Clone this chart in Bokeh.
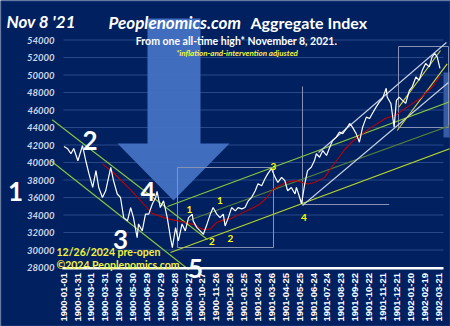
import math
import datetime as dt
from bokeh.plotting import figure
from bokeh.models import Range1d
from bokeh.core.properties import value
from bokeh.embed import file_html
from bokeh.resources import INLINE

# ---------------- data ----------------
price_days = [0, 8, 15, 21, 30, 40, 47, 54, 62, 69, 75, 83, 90, 101, 107, 115, 122, 129, 137, 144,
              150, 158, 161, 169, 176, 183, 191, 198, 201, 208, 215, 223, 230, 234, 241, 247, 255, 262,
              269, 277, 279, 287, 294, 301, 309, 316, 322, 330, 337, 344, 348, 355, 362, 370, 376, 384,
              391, 398, 405, 413, 419, 427, 434, 440, 448, 456, 462, 470, 477, 483, 491, 499, 502, 509,
              513, 520, 526, 534, 541, 545, 552, 559, 567, 574, 580, 588, 595, 602, 610, 617, 623, 631,
              638, 645, 653, 660, 666, 674, 681, 688, 696, 698, 706, 709, 713, 718, 724, 731, 738, 746,
              752, 760, 767, 774, 781, 789, 795, 801, 806, 812]
price_vals = [41820, 41560, 41000, 41600, 40200, 41940, 40200, 38700, 37150, 39070, 37150, 36000, 36770,
              39450, 37920, 36400, 36000, 33700, 33330, 34850, 33700, 31400, 32980, 32180, 34100, 34100,
              35280, 36000, 36700, 34850, 35620, 33700, 31400, 30260, 32560, 31030, 32980, 32180, 33700,
              34100, 33330, 32560, 32180, 31800, 32980, 34100, 34850, 34100, 33700, 34100, 32750, 33700,
              34850, 34470, 34850, 34700, 34850, 35620, 36000, 36770, 37570, 37350, 38140, 38700, 39300,
              38300, 37720, 38300, 37920, 36770, 37150, 36400, 37150, 36000, 35280, 37570, 39070, 39450,
              40220, 41000, 40600, 41360, 40800, 41750, 42500, 42900, 43470, 43300, 43890, 44460, 44040,
              43300, 42320, 44040, 45190, 45030, 45600, 46330, 46900, 47330, 48480, 47480, 46750, 45600,
              44040, 47100, 47480, 47100, 46750, 48250, 48630, 49780, 49400, 50550, 51320, 50930, 52080,
              52460, 52080, 50750]

ma_days = [83, 108, 144, 180, 190, 216, 230, 258, 280, 300, 316, 330, 348, 359, 380, 402, 423, 438,
           452, 473, 488, 502, 527, 541, 563, 580, 605, 623, 641, 666, 695, 717, 740, 770, 798, 812]
ma_vals = [39840, 38770, 36860, 34800, 34200, 33700, 33500, 33200, 32900, 32350, 32400, 33150, 33500,
           33550, 34100, 34670, 35240, 36000, 36970, 37540, 37840, 37920, 37540, 37720, 38300, 39600,
           41400, 42400, 43150, 44100, 45050, 45430, 46300, 47350, 48800, 49900]

tick_labels = ["1900-01-01", "1900-01-31", "1900-03-01", "1900-03-31", "1900-04-30", "1900-05-30",
               "1900-06-29", "1900-07-29", "1900-08-28", "1900-09-27", "1900-10-27", "1900-11-26",
               "1900-12-26", "1901-01-25", "1901-02-24", "1901-03-26", "1901-04-25", "1901-05-25",
               "1901-06-24", "1901-07-24", "1901-08-23", "1901-09-22", "1901-10-22", "1901-11-21",
               "1901-12-21", "1902-01-20", "1902-02-19", "1902-03-21"]
y_tick_vals = [28000, 30000, 32000, 34000, 36000, 38000, 40000, 42000, 44000, 46000, 48000,
               50000, 52000, 54000]

# trend lines drawn on the chart (start day, start value, end day, end value, kind)
trend_x0 = [-25.5, -29.2, 223.5, 230.0, 268.9, 549.7, 515.1, 723.1, 719.7]
trend_y0 = [44880, 40229, 34971, 29714, 33371, 41143, 35086, 46320, 43657]
trend_x1 = [309.9, 268.9, 834.8, 834.8, 834.8, 826.1, 830.4, 813.2, 827.6]
trend_y1 = [31200, 27771, 46971, 41600, 44229, 53714, 49143, 52800, 51280]
trend_kind = ["down", "down", "up", "up_low", "up_mid", "white", "white", "yellow", "yellow"]

# boxes drawn on the chart (day range, value range)
box_x0 = [245.1, 722.5]
box_x1 = [452.5, 830.5]
box_y0 = [30286, 44000]
box_y1 = [39429, 53257]
# open bracket (vertical + horizontal segment)
bracket_day0 = 515.1
bracket_day1 = 702.4
bracket_low = 35200
bracket_high = 48686

# ---------------- layout ----------------
W, H = 450, 326
X0_PX, PX_PER_DAY = 63.5, 0.463
Y0_PX, PX_PER_UNIT, Y0_VAL = 267.0, 0.00875, 28000


def dx(px):
    return (px - X0_PX) / PX_PER_DAY


def vy(py):
    return Y0_VAL + (Y0_PX - py) / PX_PER_UNIT


BG = "#002060"
GRID = "#2a4887"
FONT = value("Lato")

p = figure(width=W, height=H, x_range=Range1d(dx(0), dx(W)), y_range=Range1d(vy(H), vy(0)),
           output_backend="svg", toolbar_location=None, x_axis_location=None, y_axis_location=None,
           min_border=0, background_fill_color=BG, border_fill_color=BG, outline_line_color=None)
p.grid.visible = False

# grid lines
gv = y_tick_vals[1:]
p.segment(x0=[dx(63)] * len(gv), x1=[dx(443)] * len(gv), y0=gv, y1=gv, line_color=GRID, line_width=1)

# big arrow
ax = [dx(147), dx(200), dx(200), dx(229), dx(173), dx(117), dx(147)]
ay = [vy(18), vy(18), vy(143), vy(143), vy(200), vy(143), vy(143)]
p.patch(ax, ay, fill_color="#4472C4", line_color=None, fill_alpha=0.95)

# right side bar
p.quad(left=dx(443), right=dx(450), top=vy(72), bottom=vy(137), fill_color="#3b63ad",
       line_color=None, fill_alpha=0.9)

# boxes
p.quad(left=box_x0, right=box_x1, bottom=box_y0, top=box_y1, fill_color=None,
       line_color="#8793b5", line_width=1)
p.segment(x0=[bracket_day0, bracket_day0], y0=[bracket_high, bracket_low],
          x1=[bracket_day0, bracket_day1], y1=[bracket_low, bracket_low],
          line_color="#8793b5", line_width=1)

# trend lines
kind_color = {"down": "#8cc63f", "up": "#86c440", "up_low": "#b5d32e", "up_mid": "#55803a",
              "white": "#c9d1e3", "yellow": "#d6d63a"}
p.segment(x0=trend_x0, y0=trend_y0, x1=trend_x1, y1=trend_y1,
          line_color=[kind_color[k] for k in trend_kind], line_width=1.1)

# moving average and price
p.line(ma_days, ma_vals, line_color="#c00000", line_width=1.1)
p.line(price_days, price_vals, line_color="#ffffff", line_width=1.2)

# x axis line
p.segment(x0=[dx(62)], y0=[vy(267.8)], x1=[dx(443)], y1=[vy(267.8)], line_color="#ffffff", line_width=2.6)

# y tick labels
p.text(x=[dx(54)] * len(y_tick_vals), y=y_tick_vals, text=[str(v) for v in y_tick_vals],
       text_align="right", text_baseline="middle", text_font=FONT, text_font_size="9.5px",
       text_font_style="bold italic", text_color="#cfd6e6")

# x tick labels
base = dt.date(1900, 1, 1)
tick_days = [(dt.date.fromisoformat(s) - base).days for s in tick_labels]
p.text(x=tick_days, y=[vy(272.5)] * len(tick_days), text=tick_labels, angle=math.pi / 2,
       text_align="right", text_baseline="middle", text_font=value("Liberation Sans"),
       text_font_size="9.5px", text_font_style="bold", text_color="#ffffff")

# titles
p.text(x=[dx(6)], y=[vy(20.5)], text=["Nov 8 '21"], text_align="left", text_baseline="alphabetic",
       text_font=FONT, text_font_size="17px", text_font_style="bold italic", text_color="#ffffff")
p.text(x=[dx(108)], y=[vy(22)], text=["Peoplenomics.com"], text_align="left", text_baseline="alphabetic",
       text_font=FONT, text_font_size="17px", text_font_style="bold italic", text_color="#ffffff")
p.text(x=[dx(250)], y=[vy(22)], text=["Aggregate Index"], text_align="left", text_baseline="alphabetic",
       text_font=FONT, text_font_size="16px", text_font_style="bold", text_color="#ffffff")
p.text(x=[dx(236)], y=[vy(40.5)], text=["From one all-time high* November 8, 2021."], text_align="center",
       text_baseline="alphabetic", text_font=FONT, text_font_size="10.5px", text_font_style="bold",
       text_color="#ffffff")
p.text(x=[dx(236.5)], y=[vy(52.5)], text=["*inflation-and-intervention adjusted"], text_align="center",
       text_baseline="alphabetic", text_font=FONT, text_font_size="8px", text_font_style="bold italic",
       text_color="#f2f23c")
p.text(x=[dx(56)], y=[vy(251)], text=["12/26/2024 pre-open"], text_align="left", text_baseline="alphabetic",
       text_font=FONT, text_font_size="10.5px", text_font_style="bold", text_color="#f2f23c")
p.text(x=[dx(56)], y=[vy(264.5)], text=["\u00a92024 Peoplenomics.com"], text_align="left",
       text_baseline="alphabetic", text_font=FONT, text_font_size="10.5px", text_font_style="bold",
       text_color="#f2f23c")

# wave labels (big white)
big = [("1", 15, 191), ("2", 89.5, 140), ("3", 120, 239), ("4", 147.5, 191), ("5", 195, 268)]
p.text(x=[dx(b[1]) for b in big], y=[vy(b[2]) for b in big], text=[b[0] for b in big],
       text_align="center", text_baseline="alphabetic", text_font=FONT, text_font_size="26px",
       text_font_style="bold", text_color="#ffffff")

# wave labels (small yellow)
small = [("1", 189, 209), ("1", 219.5, 200), ("2", 211.5, 240.5), ("2", 230, 237.5), ("3", 273, 165.5),
         ("4", 303.5, 217)]
p.text(x=[dx(s[1]) for s in small], y=[vy(s[2]) for s in small], text=[s[0] for s in small],
       text_align="center", text_baseline="alphabetic", text_font=FONT, text_font_size="10px",
       text_font_style="bold", text_color="#ffff00")

# frame border
p.quad(left=dx(0.5), right=dx(449.5), bottom=vy(325.5), top=vy(0.5), fill_color=None,
       line_color="#1d3d7c", line_width=1)

open("out.html", "w").write(file_html(p, INLINE))
